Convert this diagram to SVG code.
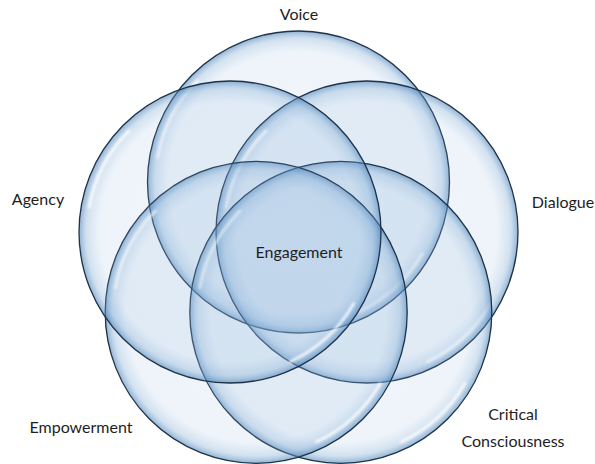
<svg xmlns="http://www.w3.org/2000/svg" xmlns:xlink="http://www.w3.org/1999/xlink" width="595" height="464" viewBox="0 0 595 464">
  <style>
    .label { font-family: "Lato", "Liberation Sans", Arial, sans-serif; font-size: 16px; fill: #1e1e1e; text-anchor: middle; }
    .rim { fill: url(#glass); stroke: #1f3247; stroke-width: 1.3; }
    .shine { fill: none; stroke: #ffffff; stroke-width: 3; stroke-linecap: round; opacity: 0.75; filter: url(#soft); }
  </style>
  <defs>
    <radialGradient id="glass" cx="0.5" cy="0.5" r="0.5">
      <stop offset="0" stop-color="#8fb5dc" stop-opacity="0.14"/>
      <stop offset="0.86" stop-color="#8fb5dc" stop-opacity="0.15"/>
      <stop offset="0.95" stop-color="#74a3d0" stop-opacity="0.32"/>
      <stop offset="1" stop-color="#4680b8" stop-opacity="0.6"/>
    </radialGradient>
    <filter id="soft" x="-20%" y="-20%" width="140%" height="140%">
      <feGaussianBlur stdDeviation="0.8"/>
    </filter>
    <!-- one glass bubble, centred on the origin -->
    <g id="bubble">
      <circle class="rim" cx="0" cy="0" r="151"/>
      <path class="shine" d="M-101.1 -101.1 A143 143 0 0 0 -140.8 -24.8"/>
      <path class="shine" d="M123.8 71.5 A143 143 0 0 1 60.4 129.6"/>
    </g>
  </defs>

  <g id="voice">
    <use xlink:href="#bubble" transform="translate(298.5 182)"/>
    <text class="label" x="299" y="20">Voice</text>
  </g>
  <g id="dialogue">
    <use xlink:href="#bubble" transform="translate(367 232)"/>
    <text class="label" x="563" y="208">Dialogue</text>
  </g>
  <g id="critical-consciousness">
    <use xlink:href="#bubble" transform="translate(340.8 312.3)"/>
    <text class="label" x="513" y="420">Critical</text>
    <text class="label" x="513" y="447">Consciousness</text>
  </g>
  <g id="empowerment">
    <use xlink:href="#bubble" transform="translate(256.2 312.3)"/>
    <text class="label" x="81" y="433">Empowerment</text>
  </g>
  <g id="agency">
    <use xlink:href="#bubble" transform="translate(230 232)"/>
    <text class="label" x="38" y="205">Agency</text>
  </g>
  <g id="engagement">
    <text class="label" x="299" y="258">Engagement</text>
  </g>
  <g id="connectors"/>
</svg>
